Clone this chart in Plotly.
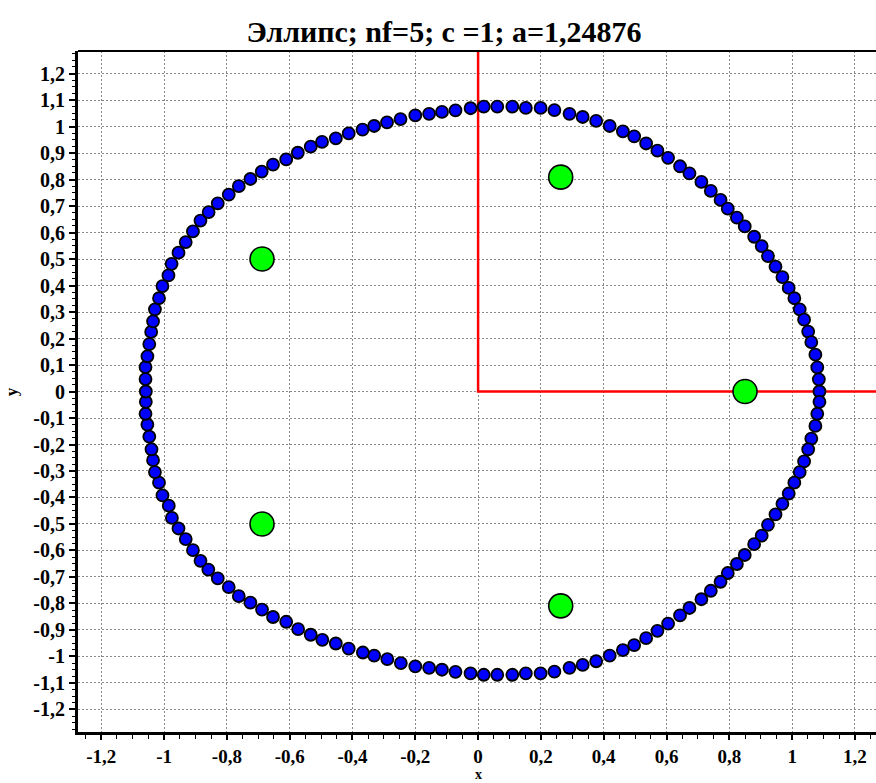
import plotly.graph_objects as go

# Points of the multifocal ellipse (sum-of-distances curve), traced around the loop
curve_x = [
    0.018, 0.061, 0.109, 0.152, 0.199, 0.243, 0.291, 0.333, 0.376, 0.419,
    0.461, 0.497, 0.535, 0.571, 0.605, 0.643, 0.673, 0.711, 0.741, 0.772,
    0.795, 0.824, 0.849, 0.879, 0.903, 0.923, 0.947, 0.969, 0.989, 1.007,
    1.024, 1.038, 1.051, 1.061, 1.074, 1.080, 1.085, 1.087,
    1.087, 1.080, 1.074, 1.061, 1.051, 1.038, 1.024, 1.007, 0.989, 0.969,
    0.947, 0.923, 0.903, 0.879, 0.849, 0.824, 0.795, 0.772, 0.741, 0.711,
    0.673, 0.643, 0.605, 0.571, 0.535, 0.497, 0.461, 0.419, 0.376, 0.333,
    0.291, 0.243, 0.199, 0.152, 0.109, 0.061, 0.018,
    -0.024, -0.072, -0.115, -0.156, -0.200, -0.246, -0.289, -0.331, -0.367, -0.412,
    -0.453, -0.496, -0.533, -0.573, -0.611, -0.653, -0.688, -0.725, -0.762, -0.794,
    -0.829, -0.859, -0.884, -0.908, -0.931, -0.954, -0.975, -0.985, -1.005, -1.016,
    -1.029, -1.035, -1.040, -1.047, -1.053, -1.059, -1.058,
    -1.058, -1.059, -1.059, -1.053, -1.047, -1.041, -1.035, -1.029, -1.016, -1.005,
    -0.986, -0.976, -0.954, -0.931, -0.908, -0.884, -0.858, -0.829, -0.794, -0.762,
    -0.725, -0.689, -0.653, -0.611, -0.574, -0.533, -0.497, -0.453, -0.412, -0.368,
    -0.331, -0.290, -0.247, -0.200, -0.156, -0.115, -0.072, -0.024,
]
curve_y = [
    1.075, 1.075, 1.075, 1.070, 1.070, 1.062, 1.048, 1.036, 1.021, 1.002,
    0.982, 0.963, 0.936, 0.909, 0.882, 0.850, 0.823, 0.791, 0.757, 0.723,
    0.690, 0.656, 0.623, 0.584, 0.549, 0.511, 0.471, 0.432, 0.391, 0.352,
    0.310, 0.271, 0.226, 0.186, 0.139, 0.091, 0.046, 0.000,
    -0.039, -0.084, -0.130, -0.178, -0.218, -0.264, -0.304, -0.344, -0.385, -0.424,
    -0.464, -0.503, -0.544, -0.576, -0.617, -0.651, -0.685, -0.718, -0.752, -0.784,
    -0.817, -0.845, -0.876, -0.903, -0.931, -0.957, -0.976, -0.997, -1.018, -1.032,
    -1.043, -1.057, -1.064, -1.064, -1.069, -1.069, -1.069,
    -1.064, -1.058, -1.050, -1.043, -1.037, -1.025, -1.010, -0.997, -0.985, -0.970,
    -0.951, -0.937, -0.918, -0.897, -0.869, -0.851, -0.823, -0.797, -0.772, -0.738,
    -0.705, -0.672, -0.639, -0.599, -0.557, -0.517, -0.477, -0.431, -0.392, -0.344,
    -0.304, -0.259, -0.218, -0.170, -0.125, -0.084, -0.039,
    0.000, 0.047, 0.092, 0.133, 0.179, 0.225, 0.265, 0.310, 0.352, 0.398,
    0.438, 0.482, 0.524, 0.564, 0.604, 0.645, 0.677, 0.710, 0.743, 0.775,
    0.802, 0.830, 0.856, 0.876, 0.901, 0.924, 0.942, 0.955, 0.974, 0.988,
    1.002, 1.016, 1.028, 1.042, 1.048, 1.055, 1.061, 1.069,
]

# The five foci
foci_x = [0.850, 0.263, -0.688, -0.688, 0.263]
foci_y = [0.000, 0.809, 0.500, -0.500, -0.809]

# Positive half-axes drawn from the origin
axis_x = [0, 0, 1.4]
axis_y = [1.4, 0, 0]

x_ticks = [-1.2, -1.0, -0.8, -0.6, -0.4, -0.2, 0.0, 0.2, 0.4, 0.6, 0.8, 1.0, 1.2]
x_tick_labels = ["-1,2", "-1", "-0,8", "-0,6", "-0,4", "-0,2", "0",
                 "0,2", "0,4", "0,6", "0,8", "1", "1,2"]
y_ticks = [-1.2, -1.1, -1.0, -0.9, -0.8, -0.7, -0.6, -0.5, -0.4, -0.3, -0.2, -0.1,
           0.0, 0.1, 0.2, 0.3, 0.4, 0.5, 0.6, 0.7, 0.8, 0.9, 1.0, 1.1, 1.2]
y_tick_labels = ["-1,2", "-1,1", "-1", "-0,9", "-0,8", "-0,7", "-0,6", "-0,5",
                 "-0,4", "-0,3", "-0,2", "-0,1", "0", "0,1", "0,2", "0,3", "0,4",
                 "0,5", "0,6", "0,7", "0,8", "0,9", "1", "1,1", "1,2"]

SERIF = "Liberation Serif, Times New Roman, serif"

fig = go.Figure()

fig.add_trace(go.Scatter(
    x=axis_x, y=axis_y, mode="lines",
    line=dict(color="#ff0000", width=2.5),
    hoverinfo="skip", showlegend=False,
))
fig.add_trace(go.Scatter(
    x=curve_x, y=curve_y, mode="markers",
    marker=dict(size=12, color="#0000ff", line=dict(color="black", width=1.8)),
    showlegend=False,
))
fig.add_trace(go.Scatter(
    x=foci_x, y=foci_y, mode="markers",
    marker=dict(size=24, color="#00ff00", line=dict(color="black", width=1.6)),
    showlegend=False,
))

grid = dict(showgrid=True, gridcolor="#8a8a8a", gridwidth=1, griddash="2px,2px",
            zeroline=False)

fig.update_xaxes(
    range=[-1.274, 1.267],
    tickmode="array", tickvals=x_ticks, ticktext=x_tick_labels,
    ticks="outside", ticklen=5, tickwidth=1.5, tickcolor="black",
    showline=True, linecolor="black", linewidth=3,
    tickfont=dict(family=SERIF, size=19, color="black", weight="bold"),
    minor=dict(tickmode="linear", tick0=0, dtick=0.05, ticks="outside",
               ticklen=4, tickwidth=1, tickcolor="black", showgrid=False),
    **grid,
)
fig.update_yaxes(
    range=[-1.285, 1.285],
    tickmode="array", tickvals=y_ticks, ticktext=y_tick_labels,
    ticks="outside", ticklen=6, tickwidth=1.5, tickcolor="black",
    showline=True, linecolor="black", linewidth=3,
    tickfont=dict(family=SERIF, size=20, color="black", weight="bold"),
    minor=dict(tickmode="linear", tick0=0, dtick=0.025, ticks="outside",
               ticklen=3, tickwidth=1, tickcolor="black", showgrid=False),
    **grid,
)

fig.update_layout(
    width=876, height=783,
    margin=dict(l=78, r=0, t=51, b=51),
    paper_bgcolor="white", plot_bgcolor="white",
    title=dict(
        text="Эллипс; nf=5; c =1; a=1,24876",
        x=444 / 876, xref="container", xanchor="center",
        y=1 - 31 / 783, yref="container", yanchor="middle",
        font=dict(family=SERIF, size=30, color="black", weight="bold"),
    ),
    shapes=[dict(type="line", xref="paper", yref="paper", x0=0, x1=1, y0=1, y1=1,
                 line=dict(color="black", width=2), layer="above")],
    annotations=[
        dict(text="x", xref="x", yref="paper", x=0, y=(732 - 774) / 681,
             showarrow=False, xanchor="center", yanchor="middle",
             font=dict(family=SERIF, size=14, color="black", weight="bold")),
        dict(text="y", xref="paper", yref="y", x=-0.083, y=0, showarrow=False,
             textangle=-90, xanchor="center", yanchor="middle",
             font=dict(family=SERIF, size=17, color="black", weight="bold")),
    ],
)

fig.write_html("out.html")
